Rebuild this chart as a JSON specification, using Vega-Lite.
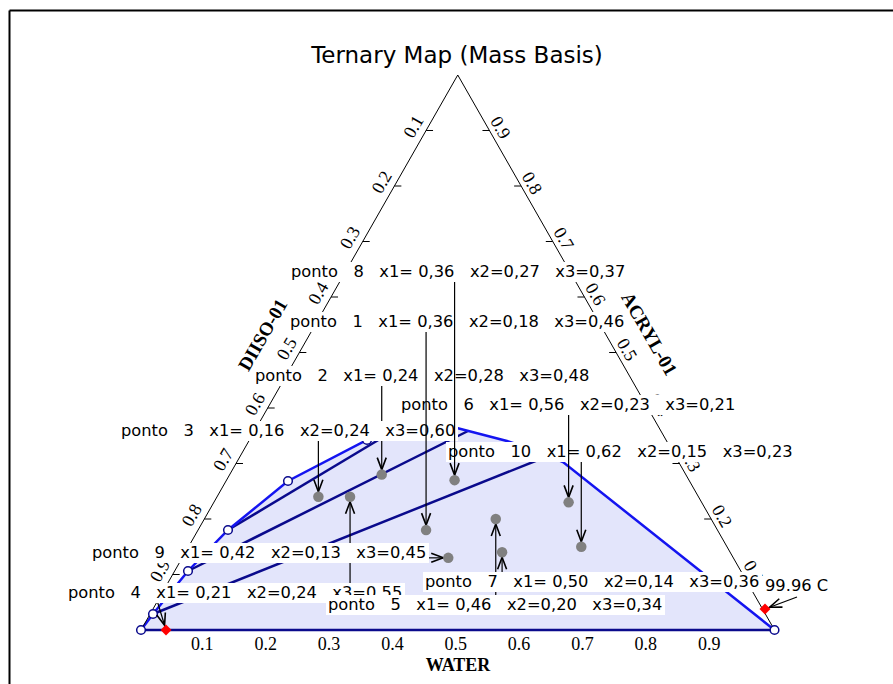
{
  "$schema": "https://vega.github.io/schema/vega-lite/v6.json",
  "width": 884,
  "height": 674,
  "autosize": {"type": "none"},
  "padding": {"left": 9, "top": 10, "right": 0, "bottom": 0},
  "background": "white",
  "config": {"view": {"stroke": null}},
  "datasets": {
    "envelope": [
      {"x": 0, "y": 0, "o": 0, "pt": 1},
      {"x": 0.01894, "y": 0.02883, "o": 1, "pt": 1},
      {"x": 0.07419, "y": 0.10631, "o": 2, "pt": 1},
      {"x": 0.13733, "y": 0.18018, "o": 3, "pt": 1},
      {"x": 0.23204, "y": 0.26847, "o": 4, "pt": 1},
      {"x": 0.35675, "y": 0.34234, "o": 5, "pt": 1},
      {"x": 0.40095, "y": 0.36036, "o": 6, "pt": 0},
      {"x": 0.4483, "y": 0.36937, "o": 7, "pt": 0},
      {"x": 0.49882, "y": 0.36396, "o": 8, "pt": 0},
      {"x": 0.57774, "y": 0.34054, "o": 9, "pt": 0},
      {"x": 0.62983, "y": 0.32072, "o": 10, "pt": 0},
      {"x": 0.66614, "y": 0.3027, "o": 11, "pt": 0},
      {"x": 1, "y": 0, "o": 12, "pt": 1}
    ],
    "ties": [
      {"x": 0, "y": 0, "tx": 1, "ty": 0},
      {"x": 0.01894, "y": 0.02883, "tx": 0.64246, "ty": 0.31351},
      {"x": 0.07419, "y": 0.10631, "tx": 0.51618, "ty": 0.358559},
      {"x": 0.13733, "y": 0.18018, "tx": 0.40095, "ty": 0.36036}
    ],
    "triangle": [
      {"x": 0, "y": 0, "o": 0},
      {"x": 0.5, "y": 1, "o": 1},
      {"x": 1, "y": 0, "o": 2}
    ],
    "ticks": [
      {"side": "L", "label": "0.1", "x": 0.45, "xe": 0.461, "y": 0.9},
      {"side": "L", "label": "0.2", "x": 0.4, "xe": 0.411, "y": 0.8},
      {"side": "L", "label": "0.3", "x": 0.35, "xe": 0.361, "y": 0.7},
      {"side": "L", "label": "0.4", "x": 0.3, "xe": 0.311, "y": 0.6},
      {"side": "L", "label": "0.5", "x": 0.25, "xe": 0.261, "y": 0.5},
      {"side": "L", "label": "0.6", "x": 0.2, "xe": 0.211, "y": 0.4},
      {"side": "L", "label": "0.7", "x": 0.15, "xe": 0.161, "y": 0.3},
      {"side": "L", "label": "0.8", "x": 0.1, "xe": 0.111, "y": 0.2},
      {"side": "L", "label": "0.9", "x": 0.05, "xe": 0.061, "y": 0.1},
      {"side": "R", "label": "0.9", "x": 0.55, "xe": 0.539, "y": 0.9},
      {"side": "R", "label": "0.8", "x": 0.6, "xe": 0.589, "y": 0.8},
      {"side": "R", "label": "0.7", "x": 0.65, "xe": 0.639, "y": 0.7},
      {"side": "R", "label": "0.6", "x": 0.7, "xe": 0.689, "y": 0.6},
      {"side": "R", "label": "0.5", "x": 0.75, "xe": 0.739, "y": 0.5},
      {"side": "R", "label": "0.4", "x": 0.8, "xe": 0.789, "y": 0.4},
      {"side": "R", "label": "0.3", "x": 0.85, "xe": 0.839, "y": 0.3},
      {"side": "R", "label": "0.2", "x": 0.9, "xe": 0.889, "y": 0.2},
      {"side": "R", "label": "0.1", "x": 0.95, "xe": 0.939, "y": 0.1},
      {"side": "B", "label": "0.1", "x": 0.1, "xe": 0.1, "y": 0},
      {"side": "B", "label": "0.2", "x": 0.2, "xe": 0.2, "y": 0},
      {"side": "B", "label": "0.3", "x": 0.3, "xe": 0.3, "y": 0},
      {"side": "B", "label": "0.4", "x": 0.4, "xe": 0.4, "y": 0},
      {"side": "B", "label": "0.5", "x": 0.5, "xe": 0.5, "y": 0},
      {"side": "B", "label": "0.6", "x": 0.6, "xe": 0.6, "y": 0},
      {"side": "B", "label": "0.7", "x": 0.7, "xe": 0.7, "y": 0},
      {"side": "B", "label": "0.8", "x": 0.8, "xe": 0.8, "y": 0},
      {"side": "B", "label": "0.9", "x": 0.9, "xe": 0.9, "y": 0}
    ],
    "points": [
      {"id": 1, "x1": 0.36, "x2": 0.18, "x3": 0.46, "x": 0.45, "y": 0.18},
      {"id": 2, "x1": 0.24, "x2": 0.28, "x3": 0.48, "x": 0.38, "y": 0.28},
      {"id": 3, "x1": 0.16, "x2": 0.24, "x3": 0.6, "x": 0.28, "y": 0.24},
      {"id": 4, "x1": 0.21, "x2": 0.24, "x3": 0.55, "x": 0.33, "y": 0.24},
      {"id": 5, "x1": 0.46, "x2": 0.2, "x3": 0.34, "x": 0.56, "y": 0.2},
      {"id": 6, "x1": 0.56, "x2": 0.23, "x3": 0.21, "x": 0.675, "y": 0.23},
      {"id": 7, "x1": 0.5, "x2": 0.14, "x3": 0.36, "x": 0.57, "y": 0.14},
      {"id": 8, "x1": 0.36, "x2": 0.27, "x3": 0.37, "x": 0.495, "y": 0.27},
      {"id": 9, "x1": 0.42, "x2": 0.13, "x3": 0.45, "x": 0.485, "y": 0.13},
      {"id": 10, "x1": 0.62, "x2": 0.15, "x3": 0.23, "x": 0.695, "y": 0.15}
    ],
    "azeotropes": [
      {"name": "99.96 C", "x": 0.985, "y": 0.0378},
      {"name": "", "x": 0.0395, "y": 0}
    ],
    "arrows": [
      {"id": "8", "x": 0.495, "y": 0.27, "tx": 0.495, "ty": 0.627027, "angle": 0, "g": "top"},
      {"id": "1", "x": 0.45, "y": 0.18, "tx": 0.45, "ty": 0.536937, "angle": 0, "g": "top"},
      {"id": "2", "x": 0.38, "y": 0.28, "tx": 0.38, "ty": 0.43964, "angle": 0, "g": "under"},
      {"id": "6", "x": 0.675, "y": 0.23, "tx": 0.675, "ty": 0.387387, "angle": 0, "g": "top"},
      {"id": "3", "x": 0.28, "y": 0.24, "tx": 0.28, "ty": 0.340541, "angle": 0, "g": "top"},
      {"id": "10", "x": 0.695, "y": 0.15, "tx": 0.695, "ty": 0.302703, "angle": 0, "g": "top"},
      {"id": "9", "x": 0.485, "y": 0.13, "tx": 0.454617, "ty": 0.13, "angle": -90, "g": "top"},
      {"id": "4", "x": 0.33, "y": 0.24, "tx": 0.33, "ty": 0.084685, "angle": 180, "g": "under"},
      {"id": "7", "x": 0.57, "y": 0.14, "tx": 0.57, "ty": 0.104505, "angle": 180, "g": "top"},
      {"id": "5", "x": 0.56, "y": 0.2, "tx": 0.56, "ty": 0.063063, "angle": 180, "g": "under"},
      {"id": "az1", "x": 0.985, "y": 0.0378, "tx": 1.035517, "ty": 0.059459, "angle": 69, "g": "top"},
      {"id": "az2", "x": 0.0395, "y": 0, "tx": 0.023678, "ty": 0.059459, "angle": -17, "g": "under"}
    ],
    "labels": [
      {"id": 8, "g": "a", "t": "ponto\u00a0\u00a0\u00a08\u00a0\u00a0\u00a0x1=\u00a00,36\u00a0\u00a0\u00a0x2=0,27\u00a0\u00a0\u00a0x3=0,37", "x": 0.23678, "y": 0.645045, "x0": 0.233623, "x1": 0.768745, "y0": 0.627027, "y1": 0.663063},
      {"id": 1, "g": "a", "t": "ponto\u00a0\u00a0\u00a01\u00a0\u00a0\u00a0x1=\u00a00,36\u00a0\u00a0\u00a0x2=0,18\u00a0\u00a0\u00a0x3=0,46", "x": 0.235201, "y": 0.554955, "x0": 0.232044, "x1": 0.767167, "y0": 0.536937, "y1": 0.572973},
      {"id": 2, "g": "a", "t": "ponto\u00a0\u00a0\u00a02\u00a0\u00a0\u00a0x1=\u00a00,24\u00a0\u00a0\u00a0x2=0,28\u00a0\u00a0\u00a0x3=0,48", "x": 0.179953, "y": 0.457658, "x0": 0.176796, "x1": 0.711918, "y0": 0.43964, "y1": 0.475676},
      {"id": 6, "g": "a", "t": "ponto\u00a0\u00a0\u00a06\u00a0\u00a0\u00a0x1=\u00a00,56\u00a0\u00a0\u00a0x2=0,23\u00a0\u00a0\u00a0x3=0,21", "x": 0.410418, "y": 0.405405, "x0": 0.407261, "x1": 0.942384, "y0": 0.387387, "y1": 0.423423},
      {"id": 3, "g": "a", "t": "ponto\u00a0\u00a0\u00a03\u00a0\u00a0\u00a0x1=\u00a00,16\u00a0\u00a0\u00a0x2=0,24\u00a0\u00a0\u00a0x3=0,60", "x": -0.031571, "y": 0.358559, "x0": -0.034728, "x1": 0.500395, "y0": 0.340541, "y1": 0.376577},
      {"id": 10, "g": "a", "t": "ponto\u00a0\u00a0\u00a010\u00a0\u00a0\u00a0x1=\u00a00,62\u00a0\u00a0\u00a0x2=0,15\u00a0\u00a0\u00a0x3=0,23", "x": 0.484609, "y": 0.320721, "x0": 0.481452, "x1": 1.03236, "y0": 0.302703, "y1": 0.338739},
      {"id": 9, "g": "a", "t": "ponto\u00a0\u00a0\u00a09\u00a0\u00a0\u00a0x1=\u00a00,42\u00a0\u00a0\u00a0x2=0,13\u00a0\u00a0\u00a0x3=0,45", "x": -0.077348, "y": 0.138739, "x0": -0.080505, "x1": 0.454617, "y0": 0.120721, "y1": 0.156757},
      {"id": 4, "g": "a", "t": "ponto\u00a0\u00a0\u00a04\u00a0\u00a0\u00a0x1=\u00a00,21\u00a0\u00a0\u00a0x2=0,24\u00a0\u00a0\u00a0x3=0,55", "x": -0.115233, "y": 0.066667, "x0": -0.11839, "x1": 0.416732, "y0": 0.048649, "y1": 0.084685},
      {"id": 7, "g": "a", "t": "ponto\u00a0\u00a0\u00a07\u00a0\u00a0\u00a0x1=\u00a00,50\u00a0\u00a0\u00a0x2=0,14\u00a0\u00a0\u00a0x3=0,36", "x": 0.448303, "y": 0.086486, "x0": 0.445146, "x1": 0.980268, "y0": 0.068468, "y1": 0.104505},
      {"id": 5, "g": "b", "t": "ponto\u00a0\u00a0\u00a05\u00a0\u00a0\u00a0x1=\u00a00,46\u00a0\u00a0\u00a0x2=0,20\u00a0\u00a0\u00a0x3=0,34", "x": 0.295185, "y": 0.045045, "x0": 0.292028, "x1": 0.827151, "y0": 0.027027, "y1": 0.063063}
    ]
  },
  "encoding": {
    "x": {
      "field": "x",
      "type": "quantitative",
      "scale": {"domain": [-0.208366, 1.187056], "nice": false, "zero": false},
      "axis": {"orient": "top", "domain": true, "domainColor": "black", "domainWidth": 2, "ticks": false, "labels": false, "grid": false, "title": null}
    },
    "y": {
      "field": "y",
      "type": "quantitative",
      "scale": {"domain": [-0.097297, 1.117117], "nice": false, "zero": false},
      "axis": {"orient": "left", "domain": true, "domainColor": "black", "domainWidth": 2, "ticks": false, "labels": false, "grid": false, "title": null}
    }
  },
  "layer": [
    {
      "data": {"name": "envelope"},
      "mark": {"type": "area", "color": "#e3e5fb", "opacity": 1, "interpolate": "linear"},
      "encoding": {"y2": {"datum": 0}}
    },
    {
      "data": {"name": "ties"},
      "mark": {"type": "rule", "color": "#0a0a8c", "strokeWidth": 2.5},
      "encoding": {"x2": {"field": "tx"}, "y2": {"field": "ty"}}
    },
    {
      "data": {"name": "envelope"},
      "mark": {"type": "line", "color": "#1414f0", "strokeWidth": 2.5},
      "encoding": {"order": {"field": "o", "type": "quantitative"}}
    },
    {
      "data": {"name": "triangle"},
      "mark": {"type": "line", "color": "black", "strokeWidth": 1},
      "encoding": {"order": {"field": "o", "type": "quantitative"}}
    },
    {
      "data": {"name": "ticks"},
      "transform": [{"filter": "datum.side !== 'B'"}],
      "mark": {"type": "rule", "color": "black", "strokeWidth": 1},
      "encoding": {"x2": {"field": "xe"}, "y2": {"field": "y"}}
    },
    {
      "data": {"name": "ticks"},
      "transform": [{"filter": "datum.side === 'L'"}],
      "mark": {"type": "text", "font": "Liberation Serif", "fontSize": 18, "angle": -60, "align": "center", "baseline": "middle", "dx": -3, "dy": -12, "color": "black"},
      "encoding": {"text": {"field": "label"}}
    },
    {
      "data": {"name": "ticks"},
      "transform": [{"filter": "datum.side === 'R'"}],
      "mark": {"type": "text", "font": "Liberation Serif", "fontSize": 18, "angle": 60, "align": "center", "baseline": "middle", "dx": 3, "dy": -10, "color": "black"},
      "encoding": {"text": {"field": "label"}}
    },
    {
      "data": {"name": "ticks"},
      "transform": [{"filter": "datum.side === 'B'"}],
      "mark": {"type": "text", "font": "Liberation Serif", "fontSize": 18, "align": "center", "baseline": "middle", "dx": -2, "dy": 15, "color": "black"},
      "encoding": {"text": {"field": "label"}}
    },
    {
      "data": {"values": [{"x": 0.192581, "y": 0.531532, "t": "DIISO-01"}]},
      "mark": {"type": "text", "font": "Liberation Serif", "fontSize": 19, "fontWeight": "bold", "angle": -60, "align": "center", "baseline": "middle", "color": "black"},
      "encoding": {"text": {"field": "t"}}
    },
    {
      "data": {"values": [{"x": 0.801894, "y": 0.533333, "t": "ACRYL-01"}]},
      "mark": {"type": "text", "font": "Liberation Serif", "fontSize": 19, "fontWeight": "bold", "angle": 60, "align": "center", "baseline": "middle", "color": "black"},
      "encoding": {"text": {"field": "t"}}
    },
    {
      "data": {"values": [{"x": 0.500395, "y": -0.064865, "t": "WATER"}]},
      "mark": {"type": "text", "font": "Liberation Serif", "fontSize": 18, "fontWeight": "bold", "align": "center", "baseline": "middle", "color": "black"},
      "encoding": {"text": {"field": "t"}}
    },
    {
      "data": {"name": "envelope"},
      "transform": [{"filter": "datum.pt === 1"}],
      "mark": {"type": "circle", "size": 75, "fill": "white", "stroke": "#0a0a8c", "strokeWidth": 1.5, "opacity": 1}
    },
    {
      "data": {"name": "arrows"},
      "transform": [{"filter": "datum.g === 'under'"}],
      "mark": {"type": "rule", "color": "black", "strokeWidth": 1.2},
      "encoding": {"x2": {"field": "tx"}, "y2": {"field": "ty"}}
    },
    {
      "data": {"name": "labels"},
      "transform": [{"filter": "datum.g === 'a'"}],
      "mark": {"type": "rect", "color": "white", "opacity": 1},
      "encoding": {
        "x": {"field": "x0", "type": "quantitative"},
        "x2": {"field": "x1"},
        "y": {"field": "y0", "type": "quantitative"},
        "y2": {"field": "y1"}
      }
    },
    {
      "data": {"name": "labels"},
      "transform": [{"filter": "datum.g === 'a'"}],
      "mark": {"type": "text", "font": "DejaVu Sans", "fontSize": 16.3, "align": "left", "baseline": "middle", "color": "black"},
      "encoding": {"text": {"field": "t"}}
    },
    {
      "data": {"name": "labels"},
      "transform": [{"filter": "datum.g === 'b'"}],
      "mark": {"type": "rect", "color": "white", "opacity": 1},
      "encoding": {
        "x": {"field": "x0", "type": "quantitative"},
        "x2": {"field": "x1"},
        "y": {"field": "y0", "type": "quantitative"},
        "y2": {"field": "y1"}
      }
    },
    {
      "data": {"name": "labels"},
      "transform": [{"filter": "datum.g === 'b'"}],
      "mark": {"type": "text", "font": "DejaVu Sans", "fontSize": 16.3, "align": "left", "baseline": "middle", "color": "black"},
      "encoding": {"text": {"field": "t"}}
    },
    {
      "data": {"name": "arrows"},
      "transform": [{"filter": "datum.g === 'top'"}],
      "mark": {"type": "rule", "color": "black", "strokeWidth": 1.2},
      "encoding": {"x2": {"field": "tx"}, "y2": {"field": "ty"}}
    },
    {
      "data": {"name": "arrows"},
      "mark": {"type": "point", "shape": "M -0.45 -1.7 L 0 -0.5 L 0.45 -1.7", "size": 400, "filled": false, "stroke": "black", "strokeWidth": 1.6, "opacity": 1},
      "encoding": {"angle": {"field": "angle", "type": "quantitative", "scale": null}}
    },
    {
      "data": {"name": "points"},
      "mark": {"type": "circle", "size": 110, "color": "#808080", "opacity": 1}
    },
    {
      "data": {"name": "azeotropes"},
      "mark": {"type": "point", "shape": "diamond", "size": 120, "filled": true, "color": "#ff0000", "opacity": 1}
    },
    {
      "data": {"values": [{"x": 0.985004, "y": 0.079279, "t": "99.96 C"}]},
      "mark": {"type": "text", "font": "DejaVu Sans", "fontSize": 16.3, "align": "left", "baseline": "middle", "color": "black"},
      "encoding": {"text": {"field": "t"}}
    },
    {
      "data": {"values": [{"x": 0.498816, "y": 1.034234, "t": "Ternary Map (Mass Basis)"}]},
      "mark": {"type": "text", "font": "DejaVu Sans", "fontSize": 23, "align": "center", "baseline": "middle", "color": "black"},
      "encoding": {"text": {"field": "t"}}
    }
  ]
}
